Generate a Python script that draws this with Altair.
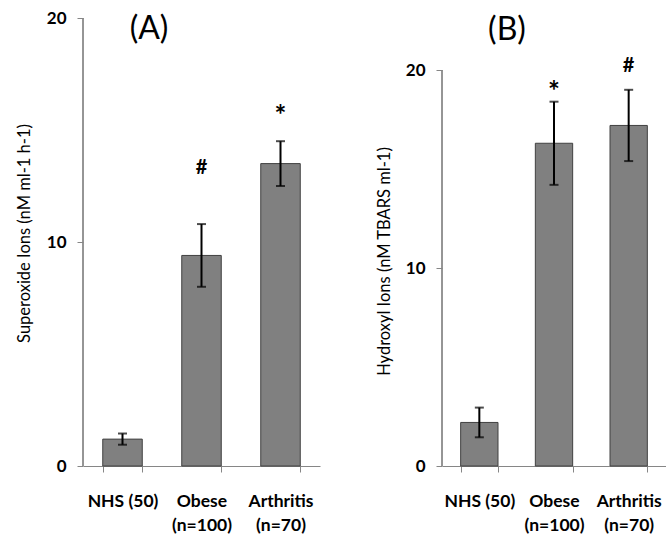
import altair as alt
import pandas as pd

categories = ["NHS (50)", "Obese|(n=100)", "Arthritis|(n=70)"]

superoxide_mean = [1.2, 9.4, 13.5]
superoxide_err = [0.25, 1.4, 1.0]
superoxide_sig = ["", "#", "*"]
superoxide_sig_y = [0.0, 13.3, 15.9]

hydroxyl_mean = [2.2, 16.3, 17.2]
hydroxyl_err = [0.75, 2.1, 1.8]
hydroxyl_sig = ["", "*", "#"]
hydroxyl_sig_y = [0.0, 19.2, 20.2]

FONT = "Lato"
AXIS_COLOR = "#868686"


def panel(mean, err, sig, sig_y, ytitle, ymax, label, label_x, label_y,
          title_x, title_y, width, height):
    df = pd.DataFrame({
        "cat": categories,
        "mean": mean,
        "lo": [m - e for m, e in zip(mean, err)],
        "hi": [m + e for m, e in zip(mean, err)],
        "sig": sig,
        "sig_y": sig_y,
    })
    xcat = alt.X("cat:N", sort=categories)
    x = alt.X(
        "cat:N", sort=categories,
        scale=alt.Scale(paddingInner=0.5, paddingOuter=0.25),
        axis=alt.Axis(
            title=None, labelAngle=0, labelExpr="split(datum.label, '|')",
            labelFont=FONT, labelFontSize=17.5, labelFontWeight="bold",
            labelColor="black", labelPadding=20.5, labelLineHeight=24,
            tickBand="extent", tickSize=6, tickColor=AXIS_COLOR,
            domainColor=AXIS_COLOR, domainWidth=1,
        ),
    )
    yscale = alt.Scale(domain=[0, ymax], nice=False, zero=True)
    y = alt.Y(
        "mean:Q", scale=yscale,
        axis=alt.Axis(
            values=[0, 10, 20], grid=False, domain=False, title=ytitle,
            labelFont=FONT, labelFontSize=17, labelFontWeight="bold",
            labelColor="black", labelPadding=11, tickSize=6,
            tickColor=AXIS_COLOR,
            titleFont=FONT, titleFontSize=16.5, titleFontWeight="normal",
            titleColor="black", titleX=title_x, titleY=title_y,
            titleAlign="center", titleBaseline="middle",
        ),
    )
    base = alt.Chart(df)
    bars = base.mark_bar(color="#808080", stroke="#404040", strokeWidth=1).encode(x=x, y=y)
    axis_line = base.mark_rule(color=AXIS_COLOR, strokeWidth=1).encode(
        x=alt.value(0), y=alt.datum(0), y2=alt.datum(20)
    )
    err_rule = base.mark_rule(color="black", strokeWidth=2).encode(
        x=xcat, y="lo:Q", y2="hi:Q"
    )
    cap_lo = base.mark_tick(color="black", thickness=2, size=9).encode(x=xcat, y="lo:Q")
    cap_hi = base.mark_tick(color="black", thickness=2, size=9).encode(x=xcat, y="hi:Q")
    hash_text = base.transform_filter("datum.sig == '#'").mark_text(
        font=FONT, fontSize=20, fontWeight="bold", color="black", baseline="middle"
    ).encode(x=xcat, y="sig_y:Q", text="sig:N")
    star_text = base.transform_filter("datum.sig == '*'").mark_text(
        font=FONT, fontSize=28, fontWeight="bold", color="black", baseline="middle", dy=7
    ).encode(x=xcat, y="sig_y:Q", text="sig:N")
    plabel = alt.Chart(pd.DataFrame({"t": [label]})).mark_text(
        font=FONT, fontSize=32, color="black", baseline="middle", align="center"
    ).encode(x=alt.value(label_x), y=alt.value(label_y), text="t:N")
    return alt.layer(bars, axis_line, err_rule, cap_lo, cap_hi, hash_text, star_text, plabel).properties(
        width=width, height=height
    )


panel_a = panel(superoxide_mean, superoxide_err, superoxide_sig, superoxide_sig_y,
                "Superoxide Ions (nM ml-1 h-1)", 20, "(A)", 66, 11, -59, 215, 237, 448)
panel_b = panel(hydroxyl_mean, hydroxyl_err, hydroxyl_sig, hydroxyl_sig_y,
                "Hydroxyl Ions  (nM TBARS ml-1)", 20 * 448 / 396, "(B)", 65, 12, -58, 243, 224, 448)

chart = alt.hconcat(panel_a, panel_b, spacing=122, bounds="flush").properties(
    padding={"left": 16, "top": 9, "right": 0, "bottom": 0},
    background="white",
).configure_view(stroke=None)

chart.save("out.html", embed_options={"renderer": "svg", "actions": False})
